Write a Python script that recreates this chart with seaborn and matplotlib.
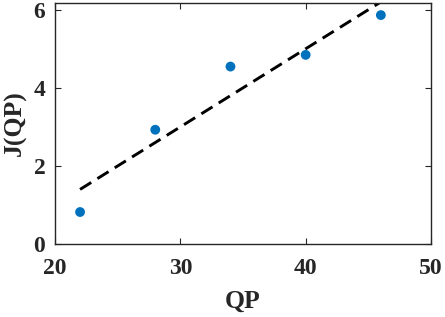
import matplotlib
matplotlib.use('Agg')
import matplotlib.pyplot as plt
import seaborn as sns
import pandas as pd

# data
qp = [22, 28, 34, 40, 46]
jqp = [0.82, 2.93, 4.55, 4.85, 5.87]

sns.set_style("ticks")
plt.rcParams['font.family'] = ['Liberation Serif', 'DejaVu Serif']
plt.rcParams['font.weight'] = 'bold'

df = pd.DataFrame({'QP': qp, 'J': jqp})

fig = plt.figure(figsize=(4.45, 3.17), dpi=100)
ax = fig.add_axes([55 / 445, (317 - 244) / 317, (431 - 55) / 445, (244 - 3) / 317])

# least-squares fit line, dashed
sns.regplot(x='QP', y='J', data=df, ax=ax, ci=None, scatter=False,
            line_kws={'color': 'black', 'linestyle': (0, (4.5, 2.5)), 'linewidth': 2.1})
sns.scatterplot(x='QP', y='J', data=df, ax=ax, color='#0072BD', s=50,
                edgecolor='none', zorder=3)

ax.set_xlim(20, 50)
ax.set_ylim(0, 6.18)
ax.set_xticks([20, 30, 40, 50])
ax.set_yticks([0, 2, 4, 6])
ax.tick_params(direction='in', top=True, right=True, length=4, width=0.8,
               labelsize=17, colors='#262626')
ax.tick_params(axis='x', pad=10)
ax.tick_params(axis='y', pad=7)
for s in ax.spines.values():
    s.set_linewidth(1)
    s.set_color('#262626')
ax.set_xlabel('QP', fontsize=18.5, fontweight='bold', color='#262626', labelpad=8)
ax.set_ylabel('J(QP)', fontsize=18.5, fontweight='bold', color='#262626', labelpad=5)

fig.savefig('out.png', dpi=100)
